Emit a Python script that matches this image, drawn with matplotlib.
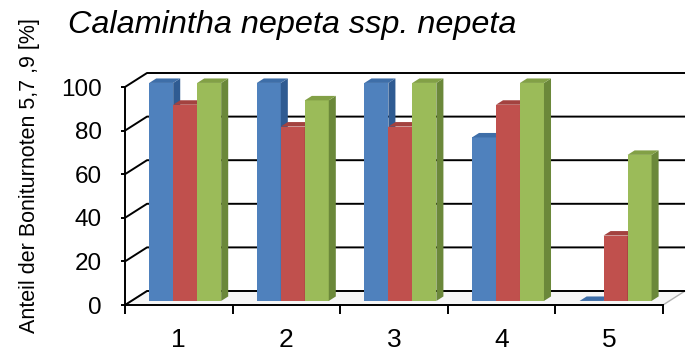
import matplotlib
matplotlib.use("Agg")
import matplotlib.pyplot as plt
from matplotlib.patches import Polygon

plt.rcParams['font.family'] = ['Liberation Sans', 'DejaVu Sans']

# Data
categories = ["1", "2", "3", "4", "5"]
series_a = [100, 100, 100, 75, 0]
series_b = [90, 80, 80, 90, 30]
series_c = [100, 92, 100, 100, 67]
yticks = [0, 20, 40, 60, 80, 100]

title = "Calamintha nepeta ssp. nepeta"
ylabel = "Anteil der Boniturnoten 5,7 ,9 [%]"

front_cols = ["#4F81BD", "#C0504D", "#9BBB59"]
side_cols = ["#2F5B92", "#8E3634", "#6B883A"]
top_cols = ["#3E6EA8", "#A3423F", "#82A046"]

W, H = 699, 356
fig = plt.figure(figsize=(W / 100, H / 100), dpi=100)
# front plane of the 3-D box in pixels
left, right, bottom, top = 125, 663, 305, 87
ax = fig.add_axes([left / W, (H - bottom) / H, (right - left) / W, (bottom - top) / H])
ax.set_xlim(0.5, 5.5)
ax.set_ylim(0, 100)
ax.patch.set_visible(False)

cat_px = (right - left) / 5.0
val_px = (bottom - top) / 100.0
# depth of the box (full) in data units
DX = 22 / cat_px
DY = 14 / val_px

LW = 1.4

# floor
floor = Polygon([(0.5, 0), (5.5, 0), (5.5 + DX, DY), (0.5 + DX, DY)],
                closed=True, facecolor="#f6f6f6", edgecolor="#b0b0b0",
                lw=1.0, clip_on=False, zorder=1)
ax.add_patch(floor)

# back-wall gridlines and left-wall diagonals
for v in yticks:
    ax.plot([0.5, 0.5 + DX, 5.5 + DX], [v, v + DY, v + DY], color="black",
            lw=LW, clip_on=False, zorder=2, solid_capstyle="butt")

# bars
f0 = 0.29   # depth at which bar front faces sit
fd = 0.32   # bar depth
bw = 0.223  # bar width
gw = 3 * bw
base = f0 * DY
ddx, ddy = fd * DX, fd * DY
all_series = [series_a, series_b, series_c]
z = 3
for i in range(len(categories)):
    for j, s in enumerate(all_series):
        v = s[i]
        x0 = (i + 1) - gw / 2 + j * bw + f0 * DX
        if v > 0:
            ax.bar(x0, v, width=bw, bottom=base, align="edge", color=front_cols[j],
                   linewidth=0, clip_on=False, zorder=z)
            side = Polygon([(x0 + bw, base), (x0 + bw + ddx, base + ddy),
                            (x0 + bw + ddx, base + v + ddy), (x0 + bw, base + v)],
                           closed=True, facecolor=side_cols[j], lw=0,
                           clip_on=False, zorder=z)
            ax.add_patch(side)
        topf = Polygon([(x0, base + v), (x0 + bw, base + v),
                        (x0 + bw + ddx, base + v + ddy), (x0 + ddx, base + v + ddy)],
                       closed=True, facecolor=top_cols[j], lw=0,
                       clip_on=False, zorder=z)
        ax.add_patch(topf)
        z += 1

# axes: front-left value axis and front category axis
for sp in ["top", "right"]:
    ax.spines[sp].set_visible(False)
ax.spines["left"].set_linewidth(LW)
ax.spines["bottom"].set_linewidth(LW)
ax.spines["left"].set_zorder(50)
ax.spines["bottom"].set_zorder(50)

ax.set_yticks(yticks)
ax.set_yticklabels([str(t) for t in yticks])
ax.tick_params(axis="y", length=3, width=LW, pad=13.5, labelsize=17.5)

ax.set_xticks([0.5, 1.5, 2.5, 3.5, 4.5, 5.5])
ax.set_xticklabels([])
ax.set_xticks([1, 2, 3, 4, 5], minor=True)
ax.set_xticklabels(categories, minor=True)
ax.tick_params(axis="x", which="major", length=6.5, width=LW, direction="out")
ax.tick_params(axis="x", which="minor", length=0, pad=16.5, labelsize=19)

fig.text(68 / W, 1 - 33 / H, title, fontsize=23.3, style="italic",
         ha="left", va="baseline")
fig.text(30 / W, 1 - 176 / H, ylabel, fontsize=15.5, rotation=90,
         ha="center", va="center")

fig.savefig("out.png", dpi=100)
